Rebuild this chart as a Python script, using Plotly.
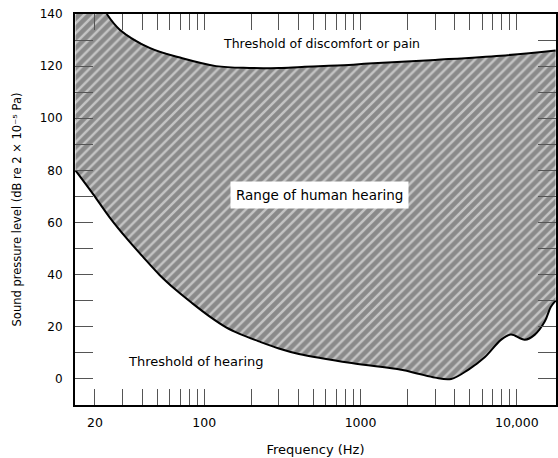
import numpy as np
import plotly.graph_objects as go

# Threshold of discomfort / pain (upper boundary)
pain_freq = [15, 23.8, 28.8, 44.7, 72.4, 119, 194, 300, 421, 839, 1125, 3000, 7910, 17700]
pain_db = [140, 140, 134, 127, 123, 120, 119.3, 119.3, 119.7, 120.4, 121, 122.4, 124, 126]

# Threshold of hearing (lower boundary)
hear_freq = [15, 19.4, 24.8, 31.8, 40.3, 51.6, 66.3, 84, 108, 138, 167, 224, 300, 403, 877,
             1820, 2340, 3000, 3800, 4880, 6250, 7910, 9160, 11250, 13030, 15080, 16480, 17700]
hear_db = [80, 71, 62, 54, 47, 40, 34, 29, 24, 19.8, 17.4, 14.4, 11.7, 9.6, 6.1,
           3.5, 2.0, 0.5, 0.0, 3.5, 8.4, 15, 17, 15, 17, 22, 27.6, 30]

# Axis ticks
x_major = [20, 100, 1000, 10000]
x_major_text = ["20", "100", "1000", "10,000"]
x_minor = [30, 40, 50, 60, 70, 80, 90,
           200, 300, 400, 500, 600, 700, 800, 900,
           2000, 3000, 4000, 5000, 6000, 7000, 8000, 9000]
y_major = [0, 20, 40, 60, 80, 100, 120, 140]
y_minor = [10, 30, 50, 70, 90, 110, 130]

FONT = "DejaVu Sans, Verdana, sans-serif"
TICK_COLOR = "#555"

fig = go.Figure()

# Hatched region between the two thresholds
fig.add_trace(go.Scatter(
    x=pain_freq + hear_freq[::-1],
    y=pain_db + hear_db[::-1],
    fill="toself",
    mode="lines",
    line=dict(width=0, color="rgba(0,0,0,0)"),
    fillpattern=dict(shape="/", bgcolor="#8a8a8a", fgcolor="white",
                     size=7, solidity=0.35),
    hoverinfo="skip",
    showlegend=False,
))

# Boundary curves
fig.add_trace(go.Scatter(x=pain_freq[1:], y=pain_db[1:], mode="lines",
                         line=dict(color="black", width=2, shape="spline"),
                         showlegend=False))
fig.add_trace(go.Scatter(x=hear_freq, y=hear_db, mode="lines",
                         line=dict(color="black", width=2, shape="spline"),
                         showlegend=False))

fig.update_layout(
    width=558, height=458,
    margin=dict(l=75, r=0, t=14, b=53),
    paper_bgcolor="white", plot_bgcolor="white",
    font=dict(family=FONT, size=12, color="black"),
    annotations=[
        dict(x=2.752, y=128.5, xref="x", yref="y", text="Threshold of discomfort or pain",
             showarrow=False, font=dict(size=12.5)),
        dict(x=2.739, y=70.6, xref="x", yref="y", text="Range of human hearing",
             showarrow=False, font=dict(size=13.5), bgcolor="white", borderpad=5),
        dict(x=1.949, y=6.5, xref="x", yref="y", text="Threshold of hearing",
             showarrow=False, font=dict(size=13)),
    ],
)

fig.update_xaxes(
    type="log",
    range=[np.log10(14.9), np.log10(17800)],
    tickmode="array", tickvals=x_major, ticktext=x_major_text,
    ticks="inside", ticklen=16, tickwidth=1, tickcolor=TICK_COLOR,
    minor=dict(tickmode="array", tickvals=x_minor, ticks="inside",
               ticklen=16, tickwidth=1, tickcolor=TICK_COLOR),
    showline=True, linecolor="black", linewidth=2, mirror="ticks",
    showgrid=False, zeroline=False,
    ticklabelstandoff=5,
    tickfont=dict(size=12.5),
    title=dict(text="Frequency (Hz)", font=dict(size=13), standoff=16),
)

fig.update_yaxes(
    range=[-10, 140],
    tickmode="array", tickvals=y_major,
    ticks="inside", ticklen=18, tickwidth=1, tickcolor=TICK_COLOR,
    minor=dict(tickmode="array", tickvals=y_minor, ticks="inside",
               ticklen=18, tickwidth=1, tickcolor=TICK_COLOR),
    showline=True, linecolor="black", linewidth=2, mirror="ticks",
    showgrid=False, zeroline=False,
    ticklabelstandoff=8,
    tickfont=dict(size=12),
    title=dict(text="Sound pressure level (dB re 2 × 10⁻⁵ Pa)",
               font=dict(size=11.5), standoff=16),
)

fig.write_html("out.html")
